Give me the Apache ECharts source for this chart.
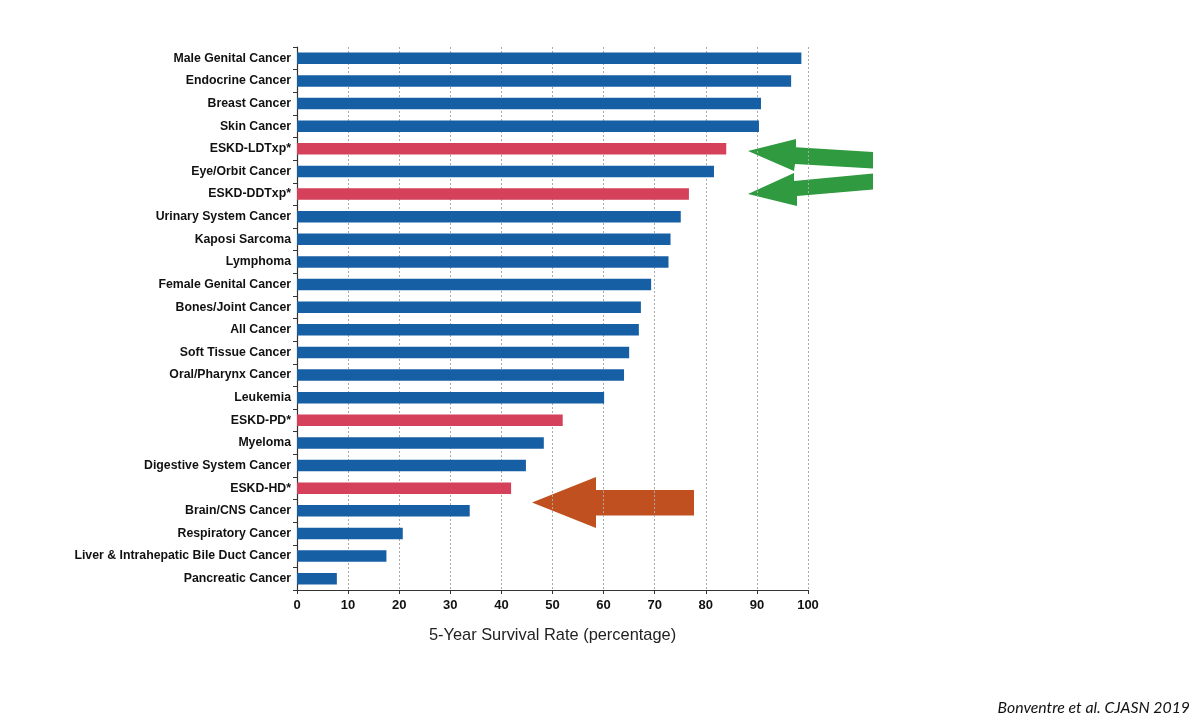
<!DOCTYPE html>
<html>
<head>
<meta charset="utf-8">
<title>5-Year Survival Rate</title>
<script src="https://cdn.jsdelivr.net/npm/echarts@6/dist/echarts.min.js"></script>
<style>
  html, body { margin: 0; padding: 0; background: #fff; }
  #main { width: 1200px; height: 724px; }
</style>
</head>
<body>
<div id="main"></div>
<script>
// categories, top to bottom
var categories = [
    'Male Genital Cancer', 'Endocrine Cancer', 'Breast Cancer', 'Skin Cancer',
    'ESKD-LDTxp*', 'Eye/Orbit Cancer', 'ESKD-DDTxp*', 'Urinary System Cancer',
    'Kaposi Sarcoma', 'Lymphoma', 'Female Genital Cancer', 'Bones/Joint Cancer',
    'All Cancer', 'Soft Tissue Cancer', 'Oral/Pharynx Cancer', 'Leukemia',
    'ESKD-PD*', 'Myeloma', 'Digestive System Cancer', 'ESKD-HD*',
    'Brain/CNS Cancer', 'Respiratory Cancer', 'Liver & Intrahepatic Bile Duct Cancer',
    'Pancreatic Cancer'
];
var survival = [
    98.7, 96.7, 90.8, 90.4,
    84.0, 81.6, 76.7, 75.1,
    73.1, 72.7, 69.3, 67.3,
    66.9, 65.0, 64.0, 60.1,
    52.0, 48.3, 44.8, 41.9,
    33.8, 20.7, 17.5, 7.8
];
// ESKD groups are drawn in red
var eskd = ['ESKD-LDTxp*', 'ESKD-DDTxp*', 'ESKD-PD*', 'ESKD-HD*'];
var xTicks = [0, 10, 20, 30, 40, 50, 60, 70, 80, 90, 100];

var blue = '#175fa5';
var red = '#d5415a';
var green = '#2f9a3f';
var orange = '#c0501f';

var myChart = echarts.init(document.getElementById('main'));

var barData = survival.map(function (v, i) {
    return {
        value: v,
        itemStyle: { color: eskd.indexOf(categories[i]) >= 0 ? red : blue }
    };
});

var option = {
    backgroundColor: '#fff',
    animation: false,
    grid: { left: 297, right: 392, top: 47, bottom: 134 },
    xAxis: {
        type: 'value',
        min: xTicks[0],
        max: xTicks[xTicks.length - 1],
        interval: 10,
        name: '5-Year Survival Rate (percentage)',
        nameLocation: 'middle',
        nameGap: 37,
        nameTextStyle: { fontFamily: 'Liberation Sans', fontSize: 16.4, color: '#222' },
        axisLine: { show: true, lineStyle: { color: '#333', width: 1.2 } },
        axisTick: { show: true, length: 4, lineStyle: { color: '#333' } },
        axisLabel: { fontFamily: 'Liberation Sans', fontSize: 13, fontWeight: 'bold', color: '#111', margin: 9 },
        splitLine: { show: true, lineStyle: { color: '#aaa', type: [2, 2], width: 1 } }
    },
    yAxis: {
        type: 'category',
        data: categories,
        inverse: true,
        axisLine: { show: true, lineStyle: { color: '#333', width: 1.2 } },
        axisTick: { show: true, length: 4, lineStyle: { color: '#333' } },
        axisLabel: {
            fontFamily: 'Liberation Sans', fontSize: 12.3, fontWeight: 'bold',
            color: '#111', margin: 6
        },
        splitLine: { show: false }
    },
    series: [{
        name: '5-Year Survival Rate',
        type: 'bar',
        data: barData,
        barWidth: 11.5
    }],
    graphic: [
        {
            type: 'polygon',
            shape: { points: [[748, 151], [796, 139], [796, 147.3], [873, 152], [873, 168.5], [795, 164], [794, 171]] },
            style: { fill: green }
        },
        {
            type: 'polygon',
            shape: { points: [[748, 194], [794, 173], [794, 181], [873, 173.5], [873, 189.5], [797, 196], [797, 206]] },
            style: { fill: green }
        },
        {
            type: 'polygon',
            shape: { points: [[532, 502.6], [596, 477], [596, 490], [694, 490], [694, 515.6], [596, 515.6], [596, 528]] },
            style: { fill: orange }
        },
        {
            type: 'text',
            right: 10,
            top: 700,
            style: {
                text: 'Bonventre et al. CJASN 2019',
                font: 'italic 15.8px Lato, "Open Sans", sans-serif',
                fill: '#111'
            }
        }
    ]
};

myChart.setOption(option);
</script>
</body>
</html>
